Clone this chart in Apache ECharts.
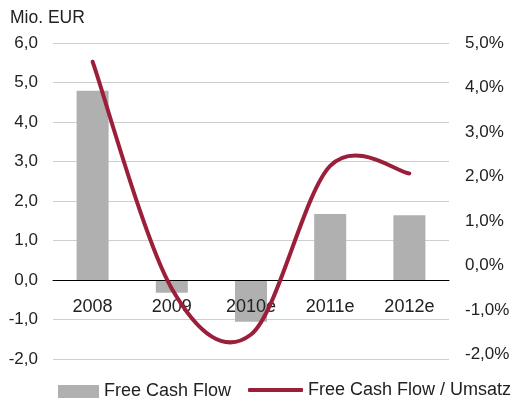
<!DOCTYPE html>
<html>
<head>
<meta charset="utf-8">
<script src="https://cdn.jsdelivr.net/npm/echarts@6/dist/echarts.min.js"></script>
<style>
  html, body { margin: 0; padding: 0; background: #fff; }
  #chart { width: 513px; height: 401px; }
</style>
</head>
<body>
<div id="chart"></div>
<script>
var years = ["2008", "2009", "2010e", "2011e", "2012e"];
var freeCashFlow = [4.79, -0.32, -1.06, 1.67, 1.64];
var fcfMargin = [4.58, -0.52, -1.55, 2.24, 2.07];

var fontName = "Liberation Sans";
var textColor = "#222";
var lineColor = "#9b1f3b";

function fmt(v) {
  return v.toFixed(1).replace(".", ",");
}

// smooth curve through the points (catmull-rom -> bezier), like the office chart spline
function splinePath(pts) {
  var d = "M" + pts[0][0] + " " + pts[0][1];
  for (var i = 0; i < pts.length - 1; i++) {
    var p0 = pts[i - 1] || pts[i];
    var p1 = pts[i];
    var p2 = pts[i + 1];
    var p3 = pts[i + 2] || pts[i + 1];
    var c1x = p1[0] + (p2[0] - p0[0]) / 6;
    var c1y = p1[1] + (p2[1] - p0[1]) / 6;
    var c2x = p2[0] - (p3[0] - p1[0]) / 6;
    var c2y = p2[1] - (p3[1] - p1[1]) / 6;
    d += " C" + c1x + " " + c1y + " " + c2x + " " + c2y + " " + p2[0] + " " + p2[1];
  }
  return d;
}

var chart = echarts.init(document.getElementById("chart"));

var option = {
  animation: false,
  textStyle: { fontFamily: fontName },
  grid: { left: 53, right: 64, top: 43, bottom: 42 },
  graphic: [
    {
      type: "text",
      left: 10,
      top: 9,
      style: { text: "Mio. EUR", fontSize: 17.5, fill: textColor, fontFamily: fontName }
    }
  ],
  legend: [
    {
      left: 58,
      top: 382.5,
      padding: 0,
      itemWidth: 41,
      itemHeight: 13,
      data: [{ name: "Free Cash Flow", icon: "rect" }],
      textStyle: { fontSize: 18, color: textColor, fontFamily: fontName }
    },
    {
      left: 248,
      top: 381,
      padding: 0,
      itemWidth: 55,
      itemHeight: 4,
      data: [{ name: "Free Cash Flow / Umsatz", icon: "roundRect" }],
      textStyle: { fontSize: 18, color: textColor, fontFamily: fontName }
    }
  ],
  xAxis: {
    type: "category",
    data: years,
    z: 3,
    offset: -79,
    axisLine: { onZero: false, lineStyle: { color: "#000", width: 1 } },
    axisTick: { show: false },
    axisLabel: { fontSize: 18, color: textColor, margin: 18 }
  },
  yAxis: [
    {
      type: "value",
      min: -2,
      max: 6,
      interval: 1,
      axisLine: { show: false },
      axisTick: { show: false },
      splitLine: { lineStyle: { color: "#cfcfcf", width: 1 } },
      axisLabel: { fontSize: 17, color: textColor, margin: 15, formatter: fmt }
    },
    {
      type: "value",
      min: -2.1,
      max: 5,
      splitNumber: 7,
      axisLine: { show: false },
      axisTick: { show: false },
      splitLine: { show: false },
      axisLabel: {
        fontSize: 17,
        color: textColor,
        margin: 16,
        showMinLabel: false,
        formatter: function (v) { return fmt(v) + "%"; }
      }
    }
  ],
  series: [
    {
      name: "Free Cash Flow",
      type: "bar",
      yAxisIndex: 0,
      barWidth: 32,
      itemStyle: { color: "#b0b0b0" },
      data: freeCashFlow
    },
    {
      name: "Free Cash Flow / Umsatz",
      type: "custom",
      yAxisIndex: 1,
      z: 5,
      itemStyle: { color: lineColor },
      data: fcfMargin,
      renderItem: function (params, api) {
        if (params.dataIndex !== 0) return null;
        var pts = fcfMargin.map(function (v, i) {
          return api.coord([i, v]);
        });
        return {
          type: "path",
          shape: { pathData: splinePath(pts) },
          style: { fill: "none", stroke: lineColor, lineWidth: 4, lineCap: "round" }
        };
      }
    }
  ]
};

chart.setOption(option);
</script>
</body>
</html>
